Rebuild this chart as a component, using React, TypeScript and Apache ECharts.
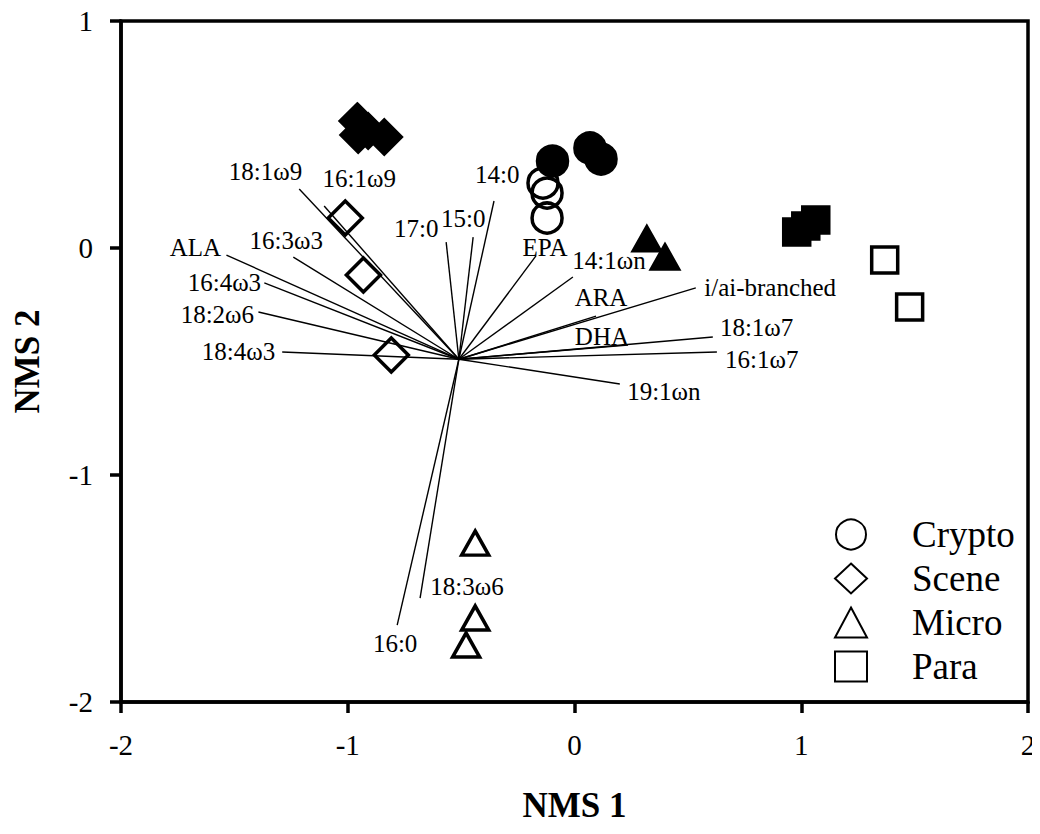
import React, { useEffect, useRef } from "react";
import * as echarts from "echarts";

// Vector (fatty acid) biplot data
const vectorOrigin = [-0.51, -0.49];
const vectorNames = [
  "18:1ω9", "16:1ω9", "16:3ω3", "ALA", "16:4ω3", "18:2ω6", "18:4ω3",
  "17:0", "15:0", "14:0", "EPA", "14:1ωn", "ARA", "DHA", "i/ai-branched",
  "18:1ω7", "16:1ω7", "19:1ωn", "18:3ω6", "16:0",
];
const vectorEndX = [
  -1.214, -1.104, -1.24, -1.535, -1.368, -1.394, -1.289,
  -0.566, -0.447, -0.355, -0.17, -0.007, 0.095, 0.236, 0.535,
  0.61, 0.628, 0.2, -0.681, -0.782,
];
const vectorEndY = [
  0.26, 0.185, -0.04, -0.031, -0.154, -0.282, -0.458,
  0.026, 0.048, 0.207, -0.035, -0.128, -0.3, -0.427, -0.176,
  -0.392, -0.458, -0.599, -1.542, -1.661,
];
const labelX = [
  -1.363, -0.949, -1.271, -1.672, -1.544, -1.575, -1.482,
  -0.698, -0.491, -0.341, -0.13, 0.152, 0.117, 0.121, 0.863,
  0.803, 0.826, 0.394, -0.474, -0.791,
];
const labelY = [
  0.335, 0.308, 0.035, 0.004, -0.154, -0.295, -0.458,
  0.088, 0.132, 0.322, 0.004, -0.053, -0.216, -0.392, -0.172,
  -0.352, -0.493, -0.634, -1.489, -1.744,
];

// Sample scores
const cryptoOpen = [[-0.139, 0.286], [-0.121, 0.242], [-0.121, 0.132]];
const cryptoFilled = [[-0.097, 0.383], [0.068, 0.441], [0.117, 0.392]];
const sceneOpen = [[-1.011, 0.132], [-0.931, -0.119], [-0.808, -0.471]];
const sceneFilled = [[-0.958, 0.559], [-0.954, 0.498], [-0.91, 0.515], [-0.839, 0.489]];
const microOpen = [[-0.438, -1.3], [-0.438, -1.63], [-0.478, -1.749]];
const microFilled = [[0.319, 0.04], [0.399, -0.04]];
const paraOpen = [[1.368, -0.053], [1.478, -0.26]];
const paraFilled = [[0.98, 0.07], [1.02, 0.097], [1.064, 0.123]];

const groups = [
  { name: "Crypto", symbol: "circle", size: 30, open: cryptoOpen, filled: cryptoFilled },
  { name: "Scene", symbol: "diamond", size: 34, open: sceneOpen, filled: sceneFilled },
  { name: "Micro", symbol: "triangle", size: [27, 24], open: microOpen, filled: microFilled },
  { name: "Para", symbol: "rect", size: 26, open: paraOpen, filled: paraFilled },
];

const FONT = "Liberation Serif, Times New Roman, serif";

export default function App() {
  const ref = useRef<HTMLDivElement>(null);
  useEffect(() => {
    if (!ref.current) return;
    const chart = echarts.init(ref.current, null, { renderer: "svg" });

    const vectorLines = vectorNames.map((n, i) => ({
      name: n,
      coords: [vectorOrigin, [vectorEndX[i], vectorEndY[i]]],
    }));
    const vectorLabels = vectorNames.map((n, i) => ({
      name: n,
      value: [labelX[i], labelY[i]],
    }));

    const groupSeries = groups.map((g) => ({
      type: "scatter",
      name: g.name,
      symbol: g.symbol,
      symbolSize: g.size,
      z: 5,
      itemStyle: { color: "rgba(0,0,0,0)", borderColor: "#000", borderWidth: 3.5, opacity: 1 },
      emphasis: { disabled: true },
      data: [
        ...g.open.map((p) => ({ value: p })),
        ...g.filled.map((p) => ({ value: p, itemStyle: { color: "#000", borderColor: "#000", opacity: 1 } })),
      ],
    }));

    chart.setOption({
      animation: false,
      backgroundColor: "#fff",
      textStyle: { fontFamily: FONT },
      grid: {
        left: 121, right: 12, top: 21, bottom: 132,
        outerBoundsMode: "none",
        containLabel: false,
        show: true, borderColor: "#000", borderWidth: 3.5,
      },
      legend: {
        orient: "vertical",
        left: 829,
        top: 511,
        itemWidth: 32,
        itemHeight: 30,
        itemGap: 7,
        data: groups.map((g) => g.name),
        textStyle: { fontFamily: FONT, fontSize: 37, color: "#000", padding: [0, 0, 0, 40], lineHeight: 30 },
      },
      xAxis: {
        type: "value", min: -2, max: 2, interval: 1,
        name: "NMS 1", nameLocation: "middle", nameGap: 86,
        nameTextStyle: { fontFamily: FONT, fontSize: 35, fontWeight: "bold", color: "#000" },
        splitLine: { show: false },
        axisLine: { show: true, onZero: false, lineStyle: { color: "#000", width: 3.5 } },
        axisTick: { show: true, inside: false, length: 11, lineStyle: { color: "#000", width: 3.5 } },
        axisLabel: { margin: 28, fontFamily: FONT, fontSize: 29, color: "#000" },
      },
      yAxis: {
        type: "value", min: -2, max: 1, interval: 1,
        name: "NMS 2", nameLocation: "middle", nameGap: 76, nameRotate: 90,
        nameTextStyle: { fontFamily: FONT, fontSize: 35, fontWeight: "bold", color: "#000" },
        splitLine: { show: false },
        axisLine: { show: true, onZero: false, lineStyle: { color: "#000", width: 3.5 } },
        axisTick: { show: true, inside: false, length: 11, lineStyle: { color: "#000", width: 3.5 } },
        axisLabel: { margin: 28, fontFamily: FONT, fontSize: 29, color: "#000" },
      },
      series: [
        {
          type: "lines",
          coordinateSystem: "cartesian2d",
          silent: true,
          z: 2,
          lineStyle: { color: "#000", width: 1.4, opacity: 1 },
          data: vectorLines,
        },
        {
          type: "scatter",
          silent: true,
          symbolSize: 1,
          z: 3,
          itemStyle: { color: "rgba(0,0,0,0)", opacity: 1 },
          label: {
            show: true,
            position: "inside",
            formatter: (p: any) => p.name,
            fontFamily: FONT,
            fontSize: 25,
            color: "#000",
            opacity: 1,
          },
          data: vectorLabels,
        },
        ...groupSeries,
      ],
    });
    return () => chart.dispose();
  }, []);
  return <div ref={ref} style={{ width: 1040, height: 834, margin: -8 }} />;
}
